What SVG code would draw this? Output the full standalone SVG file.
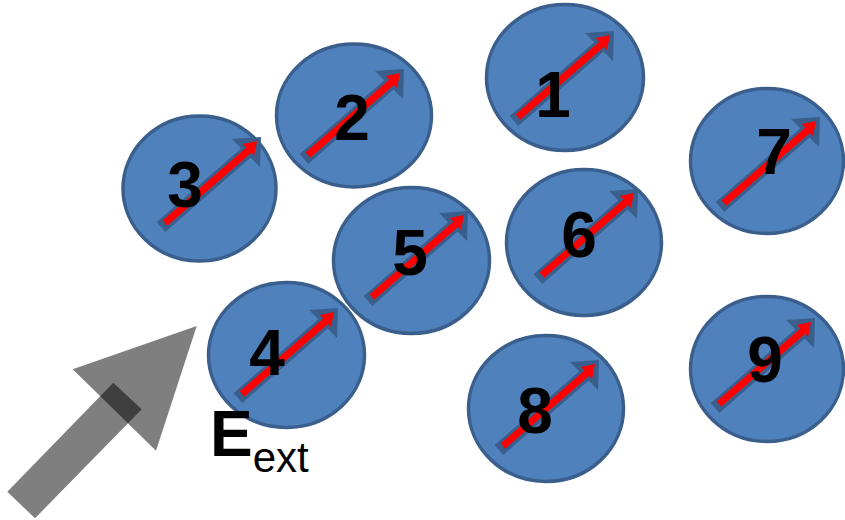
<svg xmlns="http://www.w3.org/2000/svg" width="845" height="520" viewBox="0 0 845 520">
<style>
.c{fill:#4f81bd;stroke:#3a5f8d;stroke-width:3.5}
.n{font-family:"Liberation Sans",Arial,sans-serif;font-weight:bold;font-size:64px;fill:#000;text-anchor:middle}
</style>
<defs>
<g id="spin">
<line x1="-4" y1="4" x2="82" y2="-71" stroke="#3a5f8d" stroke-width="13"/>
<polygon points="67,-84 96,-86 95,-56" fill="#3a5f8d"/>
<line x1="0" y1="0" x2="84" y2="-73" stroke="#ff0000" stroke-width="7"/>
<polygon points="78,-79 92,-82 89,-67" fill="#ff0000"/>
</g>
</defs>
<g id="field">
<polygon points="7.3,491.7 35,518.3 141.7,409.3 113.3,382.7" fill="#000" fill-opacity="0.5"/>
<polygon points="72.7,369.3 196.7,326 156,450.7" fill="#000" fill-opacity="0.5"/>
</g>
<g id="n1"><ellipse class="c" cx="565" cy="77.5" rx="78.5" ry="73"/><use href="#spin" x="518" y="117"/><text class="n" x="553" y="117">1</text></g>
<g id="n2"><ellipse class="c" cx="354" cy="115.5" rx="77.5" ry="71.5"/><use href="#spin" x="308" y="155"/><text class="n" x="352" y="140">2</text></g>
<g id="n3"><ellipse class="c" cx="199.5" cy="188.5" rx="76.5" ry="72.5"/><use href="#spin" x="165" y="223"/><text class="n" x="185" y="207">3</text></g>
<g id="n7"><ellipse class="c" cx="767" cy="161" rx="76.5" ry="72.5"/><use href="#spin" x="724" y="203"/><text class="n" x="774" y="174">7</text></g>
<g id="n5"><ellipse class="c" cx="411.5" cy="260.5" rx="78" ry="73"/><use href="#spin" x="372" y="297"/><text class="n" x="410" y="275">5</text></g>
<g id="n6"><ellipse class="c" cx="584" cy="242.5" rx="77.5" ry="73"/><use href="#spin" x="542" y="275"/><text class="n" x="579" y="257">6</text></g>
<g id="n4"><ellipse class="c" cx="286.5" cy="355" rx="78" ry="72.5"/><use href="#spin" x="242" y="394"/><text class="n" x="267" y="375">4</text></g>
<g id="n8"><ellipse class="c" cx="546" cy="408.5" rx="77.5" ry="73"/><use href="#spin" x="503" y="446"/><text class="n" x="535" y="433">8</text></g>
<g id="n9"><ellipse class="c" cx="767" cy="369" rx="76.5" ry="72.5"/><use href="#spin" x="719" y="404"/><text class="n" x="765" y="382">9</text></g>
<g id="label"><text x="210" y="456" font-family="Liberation Sans,Arial,sans-serif" fill="#000"><tspan font-weight="bold" font-size="64">E</tspan><tspan font-size="42" dy="16">ext</tspan></text></g>
</svg>
